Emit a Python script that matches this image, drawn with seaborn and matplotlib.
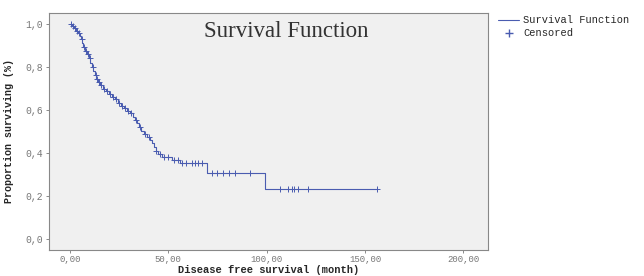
import matplotlib
matplotlib.use("Agg")
import matplotlib.pyplot as plt
from matplotlib.lines import Line2D
import seaborn as sns
import pandas as pd
import numpy as np

# Kaplan-Meier 단계 (시간, 생존율)
step_times = [0, 1.0, 2.0, 3.0, 4.0, 5.0, 5.6, 6.2, 6.8, 7.6, 8.5, 9.5, 10.3, 11.0,
              11.7, 12.5, 13.5, 14.3, 15.5, 16.8, 18.5, 20.0, 21.5, 23.0, 24.5, 26.0,
              27.5, 29.0, 30.5, 32.0, 33.0, 34.0, 35.0, 36.0, 37.5, 39.0, 40.5, 41.5,
              42.5, 43.5, 45.0, 47.0, 52.0, 56.0, 69.5, 99.0, 156.3]
step_surv = [1.000, 0.990, 0.980, 0.970, 0.960, 0.945, 0.930, 0.910, 0.895, 0.875,
             0.860, 0.840, 0.820, 0.800, 0.780, 0.765, 0.745, 0.730, 0.715, 0.700,
             0.688, 0.675, 0.663, 0.650, 0.635, 0.620, 0.608, 0.596, 0.585, 0.570,
             0.555, 0.540, 0.522, 0.505, 0.490, 0.475, 0.460, 0.445, 0.428, 0.412,
             0.398, 0.380, 0.367, 0.352, 0.307, 0.233, 0.233]

# 중도절단 시점
censored_times = [0.5, 1.5, 2.5, 3.5, 4.5, 6.0, 7.0, 8.0, 9.0, 10.0, 11.5, 13.0, 14.0,
                  15.0, 16.0, 17.5, 19.0, 20.5, 22.0, 23.5, 25.0, 26.5, 28.0, 29.5, 31.0,
                  33.5, 35.5, 38.0, 40.0, 44.0, 46.0, 48.0, 50.0, 53.0, 55.0, 57.0, 59.0,
                  62.0, 63.5, 65.0, 67.0, 72.0, 74.6, 77.6, 81.0, 83.8, 91.4, 106.6,
                  110.7, 112.7, 114.0, 115.7, 120.8, 156.3]

x_ticks = [0, 50, 100, 150, 200]
x_ticklabels = ["0,00", "50,00", "100,00", "150,00", "200,00"]
y_ticks = [0.0, 0.2, 0.4, 0.6, 0.8, 1.0]
y_ticklabels = ["0,0", "0,2", "0,4", "0,6", "0,8", "1,0"]

df_km = pd.DataFrame({"time": step_times, "surv": step_surv})
idx = np.searchsorted(step_times, censored_times, side="right") - 1
df_cens = pd.DataFrame({"time": censored_times, "surv": np.array(step_surv)[idx]})

sns.set_style("ticks", {"axes.facecolor": "#f0f0f0", "axes.edgecolor": "#888888"})
blue = "#4a5cb0"
mono = "Liberation Mono"

fig = plt.figure(figsize=(6.44, 2.76), dpi=100)
ax = fig.add_axes([0.0756, 0.094, 0.6824, 0.86])

sns.lineplot(data=df_km, x="time", y="surv", drawstyle="steps-post", estimator=None,
             color=blue, linewidth=0.8, ax=ax)
sns.scatterplot(data=df_cens, x="time", y="surv", marker="+", color=blue, s=14,
                linewidth=0.7, ax=ax, zorder=3)

ax.set_xlim(-10.8, 212.6)
ax.set_ylim(-0.051, 1.053)
ax.set_xticks(x_ticks)
ax.set_xticklabels(x_ticklabels, fontfamily=mono, fontsize=6.5, color="#777777")
ax.set_yticks(y_ticks)
ax.set_yticklabels(y_ticklabels, fontfamily=mono, fontsize=7, color="#777777")
ax.tick_params(length=2.5, width=0.6, color="#777777", pad=1.5)
ax.tick_params(axis="x", pad=1)
for s in ax.spines.values():
    s.set_linewidth(0.8)

ax.set_xlabel("Disease free survival (month)", fontfamily=mono, fontweight="bold",
              fontsize=7.5)
ax.xaxis.set_label_coords(0.5, -0.062)
ax.set_ylabel("Proportion surviving (%)", fontfamily=mono, fontweight="bold",
              fontsize=7.2, labelpad=8)

ax.text(0.54, 0.92, "Survival Function", transform=ax.transAxes, ha="center",
        va="center", fontfamily="Liberation Serif", fontsize=16.5, color="#333333")

handles = [Line2D([], [], color=blue, linewidth=0.8, drawstyle="steps-post"),
           Line2D([], [], color=blue, marker="+", linestyle="none", markersize=6)]
fig.legend(handles, ["Survival Function", "Censored"], loc="upper left",
           bbox_to_anchor=(493 / 644, 1 - 10 / 276), frameon=False,
           prop={"family": mono, "size": 7.5}, handlelength=2.0, handletextpad=0.4,
           borderpad=0, labelspacing=0.3)

fig.savefig("out.png", dpi=100)
